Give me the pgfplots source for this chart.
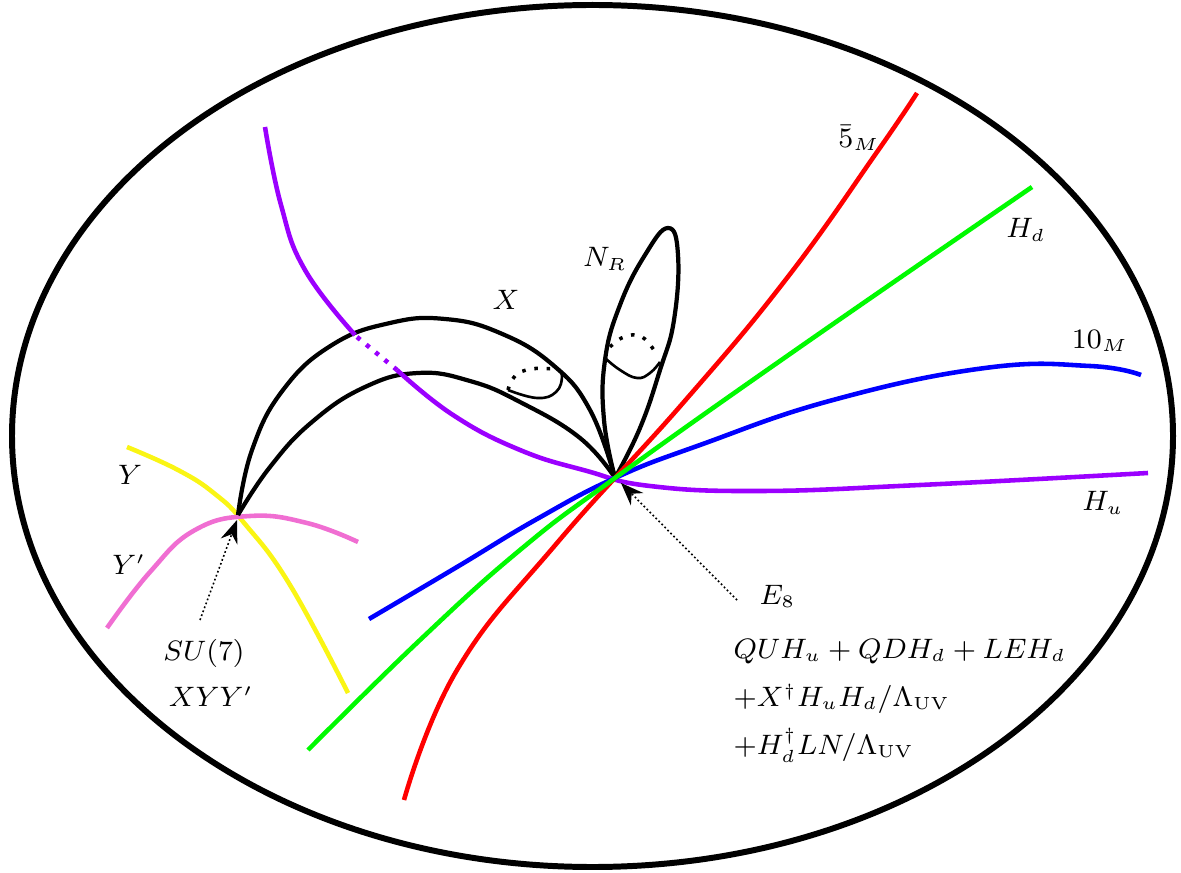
\documentclass[border=0pt]{standalone}
\usepackage{pgfplots}
\pgfplotsset{compat=1.18}
\usetikzlibrary{arrows.meta}
\definecolor{hupurple}{RGB}{155,0,255}
\definecolor{ypink}{RGB}{240,110,210}
\definecolor{yyellow}{RGB}{250,245,20}
\definecolor{fgreen}{RGB}{0,250,0}
\begin{document}
\begin{tikzpicture}
\begin{axis}[width=11.81cm, height=8.72cm, scale only axis, hide axis,
    xmin=0, xmax=1181, ymin=0, ymax=872, y dir=reverse, clip=false,
    font=\fontsize{7.8}{9}\selectfont,
    every axis plot/.append style={line join=round, tension=0.75}]
% invisible frame so the page keeps the axis size
\addplot[draw=none] coordinates {(0,0) (1181,872)};
% outer surface
\draw[line width=1.7pt] (axis cs:592.5,436) ellipse [x radius=580.5, y radius=431];

% Y and Y' curves
\addplot[yyellow, line width=1.3pt, smooth] coordinates {
    (127,447) (178,470) (215,494) (245,524) (290,585) (348,693)};
\addplot[ypink, line width=1.3pt, smooth] coordinates {
    (107,628) (150,572) (195,530) (250,516) (307,523) (358,542)};

% X curve (two arcs)
\addplot[black, line width=1.2pt, smooth] coordinates {
    (238,515) (252,450) (283,390) (332,345) (390,323) (445,319) (500,333)
    (553,365) (590,410) (615,478)};
\addplot[black, line width=1.2pt, smooth] coordinates {
    (238,515) (270,467) (312,422) (365,387) (418,373) (470,381) (520,402)
    (580,438) (615,478)};
% handle on X
\addplot[black, line width=0.75pt, smooth] coordinates {
    (508,390) (537,398) (556,392) (562,376) (557,368)};
\addplot[black, line width=1pt, smooth, dash pattern=on 1pt off 2.5pt] coordinates {
    (508,390) (515,376) (531,369) (553,369)};

% N_R curve
\addplot[black, line width=1.2pt, smooth] coordinates {
    (615,478) (604,420) (605,360) (620,305) (645,255) (668,228) (678,255)
    (674,320) (660,370) (640,428) (615,478)};
% handle on N_R
\addplot[black, line width=0.75pt, smooth] coordinates {
    (605,358) (620,370) (637,378) (650,373) (660,362)};
\addplot[black, line width=1pt, smooth, dash pattern=on 1pt off 2.5pt] coordinates {
    (610,347) (624,337) (642,337) (657,355)};

% H_u
\addplot[hupurple, line width=1.3pt, smooth] coordinates {
    (265,127) (281,205) (305,270) (355,335)};
\addplot[hupurple, line width=1.3pt, dash pattern=on 1.2pt off 2.2pt] coordinates {
    (357,337) (397,370)};
\addplot[hupurple, line width=1.3pt, smooth] coordinates {
    (397,370) (453,415) (520,450) (587,471) (650,486) (760,491) (920,485)
    (1148,473)};

% 5bar_M
\addplot[red, line width=1.3pt, smooth] coordinates {
    (404,800) (457,670) (557,543) (683,403) (787,278) (877,152) (917,93)};
% 10_M
\addplot[blue, line width=1.3pt, smooth] coordinates {
    (369,619) (457,567) (537,519) (615,478) (700,445) (833,400) (985,368)
    (1090,366) (1141,375)};
% H_d
\addplot[fgreen, line width=1.3pt, smooth] coordinates {
    (308,750) (420,640) (520,550) (615,478) (800,347) (1032,187)};

% arrows
\addplot[black, line width=0.45pt, dash pattern=on 0.5pt off 0.7pt,
    -{Stealth[length=6.5pt, width=5pt, inset=2.2pt]}] coordinates {(737,600) (621,483)};
\addplot[black, line width=0.45pt, dash pattern=on 0.5pt off 0.7pt,
    -{Stealth[length=6.5pt, width=5pt, inset=2.2pt]}] coordinates {(200,620) (237,520)};

% labels
\node at (axis cs:859,138) {$\bar{5}_M$};
\node at (axis cs:1026,230) {$H_d$};
\node at (axis cs:1100,341) {$10_M$};
\node at (axis cs:1103,503) {$H_u$};
\node at (axis cs:605,259) {$N_R$};
\node at (axis cs:506,300) {$X$};
\node at (axis cs:130,475) {$Y$};
\node at (axis cs:129,565) {$Y'$};
\node at (axis cs:204,653) {$SU(7)$};
\node at (axis cs:211,697) {$XYY'$};
\node[anchor=base west, inner sep=0pt] at (axis cs:759,604) {$E_8$};
\node[anchor=base west, inner sep=0pt] at (axis cs:733,658) {$QUH_u+QDH_d+LEH_d$};
\node[anchor=base west, inner sep=0pt] at (axis cs:733,706) {$+X^\dagger H_uH_d/\Lambda_{\mathrm{UV}}$};
\node[anchor=base west, inner sep=0pt] at (axis cs:733,754) {$+H_d^\dagger LN/\Lambda_{\mathrm{UV}}$};
\end{axis}
\end{tikzpicture}
\end{document}
